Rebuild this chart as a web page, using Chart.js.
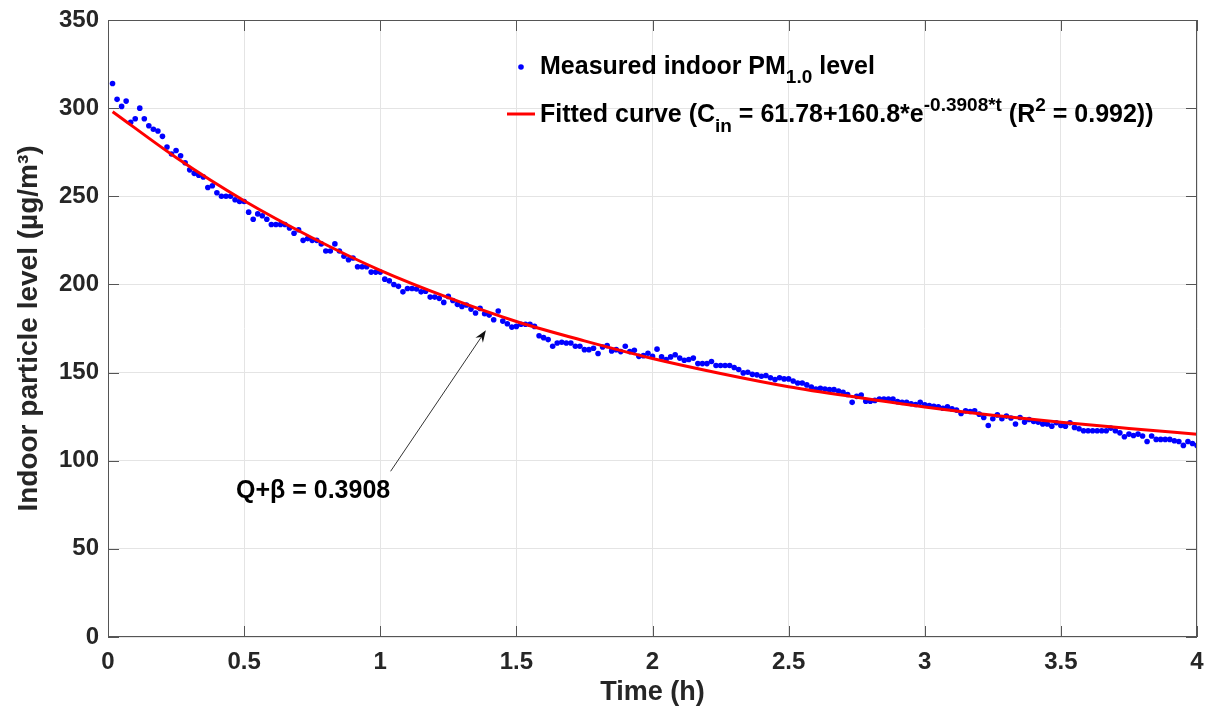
<!DOCTYPE html>
<html>
<head>
<meta charset="utf-8">
<script src="https://cdn.jsdelivr.net/npm/chart.js@4.4.1/dist/chart.umd.min.js"></script>
<style>
  html, body { margin: 0; padding: 0; background: #fff; }
</style>
</head>
<body>
<canvas id="decayChart" width="1212" height="713"></canvas>
<script>
// measured indoor PM1.0, one reading per minute from t = 1 min to 240 min
const measuredLevel = [
  314, 305, 301, 304, 292, 294, 300, 294, 290, 288,
  287, 284, 278, 274, 276, 273, 269, 265, 263, 262,
  261, 255, 256, 252, 250, 250, 250, 248, 247, 247,
  241, 237, 240, 239, 237, 234, 234, 234, 234, 232,
  229, 231, 225, 226, 225, 225, 223, 219, 219, 223,
  219, 216, 214, 215, 210, 210, 210, 207, 207, 207,
  203, 202, 200, 198.9, 195.8, 197.7, 197.7, 197.4, 195.8, 196.2,
  192.8, 192.8, 192.1, 189.8, 193.2, 190.9, 188.7, 187.5, 188.3, 186.0,
  183.8, 186.4, 183.4, 182.6, 180.0, 184.9, 179.2, 177.7, 175.8, 176.2,
  177.4, 177.4, 177.4, 176.2, 170.9, 169.8, 168.7, 164.9, 166.8, 167.2,
  166.8, 166.8, 164.9, 164.9, 163.0, 163.0, 163.8, 160.8, 164.5, 165.3,
  162.3, 163.0, 161.9, 164.9, 161.9, 162.6, 159.2, 159.6, 161.0, 159.3,
  163.3, 158.9, 157.4, 158.9, 160.1, 158.2, 157.0, 157.4, 158.2, 155.1,
  155.1, 155.1, 156.3, 154.0, 154.0, 154.0, 154.0, 152.9, 151.7, 149.8,
  150.2, 149.0, 148.7, 147.9, 148.3, 147.1, 146.0, 147.1, 146.4, 146.4,
  145.2, 144.1, 144.1, 143.0, 141.8, 140.7, 141.1, 140.7, 140.3, 140.3,
  139.5, 138.8, 137.6, 133.1, 136.5, 137.3, 133.8, 133.8, 134.2, 135.0,
  135.0, 135.0, 135.0, 133.5, 133.1, 133.1, 132.3, 131.9, 133.1, 131.7,
  131.3, 130.9, 130.6, 129.8, 130.6, 129.4, 128.7, 126.8, 128.3, 127.9,
  128.3, 126.4, 124.5, 120.0, 123.8, 126.0, 123.8, 125.3, 124.2, 120.8,
  124.5, 121.9, 123.4, 122.3, 121.9, 120.8, 120.8, 119.6, 121.5, 120.0,
  119.6, 121.5, 118.9, 118.1, 117.0, 117.0, 117.0, 117.0, 117.0, 117.0,
  118.5, 117.0, 115.8, 113.6, 115.1, 114.3, 115.1, 114.0, 110.9, 114.0,
  112.1, 112.1, 112.1, 112.1, 111.3, 110.9, 108.7, 110.9, 109.8, 108.7
];

// fitted curve
const fitTime = [0.017, 0.25, 0.5, 0.75, 1, 1.25, 1.5, 1.75, 2, 2.25, 2.5, 2.75, 3, 3.25, 3.5, 3.75, 4];
const fitLevel = [298, 272, 247.5, 226.5, 208, 192.5, 179, 168, 158, 149.5, 142, 136, 130.5, 125.8, 121.8, 118.3, 115];

const xTicks = [0, 0.5, 1, 1.5, 2, 2.5, 3, 3.5, 4];
const yTicks = [0, 50, 100, 150, 200, 250, 300, 350];

// annotation "Q+β" (data coordinates)
const noteText = 'Q+\u03b2 = 0.3908';
const noteAt = { x: 0.47, y: 79 };
const arrowFrom = { x: 1.038, y: 94 };
const arrowTo = { x: 1.388, y: 174 };

const FONT = '"Liberation Sans", Arial, Helvetica, sans-serif';
const AXIS_COLOR = '#262626';

const measuredPoints = measuredLevel.map((v, i) => ({ x: (i + 1) / 60, y: v }));
const fitPoints = fitTime.map((t, i) => ({ x: t, y: fitLevel[i] }));

function drawRich(ctx, x, y, parts) {
  parts.forEach(p => {
    ctx.font = 'bold ' + p.size + 'px ' + FONT;
    ctx.fillText(p.text, x, y + (p.shift || 0));
    x += ctx.measureText(p.text).width;
  });
}

const matlabLook = {
  id: 'matlabLook',
  afterDraw(chart) {
    const ctx = chart.ctx;
    const a = chart.chartArea;
    const xs = chart.scales.x, ys = chart.scales.y;
    ctx.save();

    // box and inward ticks
    ctx.strokeStyle = '#555';
    ctx.lineWidth = 1;
    ctx.strokeRect(a.left + 0.5, a.top + 0.5, a.right - a.left - 1, a.bottom - a.top - 1);
    ctx.beginPath();
    xTicks.forEach(t => {
      const px = Math.round(xs.getPixelForValue(t)) + 0.5;
      ctx.moveTo(px, a.bottom); ctx.lineTo(px, a.bottom - 11);
      ctx.moveTo(px, a.top); ctx.lineTo(px, a.top + 11);
    });
    yTicks.forEach(v => {
      const py = Math.round(ys.getPixelForValue(v)) + 0.5;
      ctx.moveTo(a.left, py); ctx.lineTo(a.left + 11, py);
      ctx.moveTo(a.right, py); ctx.lineTo(a.right - 11, py);
    });
    ctx.stroke();

    // legend
    ctx.textBaseline = 'alphabetic';
    ctx.textAlign = 'left';
    ctx.beginPath();
    ctx.arc(521, 67, 2.8, 0, Math.PI * 2);
    ctx.fillStyle = '#0000ff';
    ctx.fill();
    ctx.fillStyle = '#000';
    drawRich(ctx, 540, 74, [
      { text: 'Measured indoor PM', size: 25 },
      { text: '1.0', size: 19, shift: 9 },
      { text: ' level', size: 25 }
    ]);
    ctx.strokeStyle = '#ff0000';
    ctx.lineWidth = 3;
    ctx.beginPath();
    ctx.moveTo(507, 114); ctx.lineTo(535, 114);
    ctx.stroke();
    drawRich(ctx, 540, 122, [
      { text: 'Fitted curve (C', size: 25 },
      { text: 'in', size: 19, shift: 10 },
      { text: ' = 61.78+160.8*e', size: 25 },
      { text: '-0.3908*t', size: 19, shift: -11 },
      { text: ' (R', size: 25 },
      { text: '2', size: 19, shift: -11 },
      { text: ' = 0.992))', size: 25 }
    ]);

    // annotation arrow
    const x0 = xs.getPixelForValue(arrowFrom.x), y0 = ys.getPixelForValue(arrowFrom.y);
    const x1 = xs.getPixelForValue(arrowTo.x), y1 = ys.getPixelForValue(arrowTo.y);
    const ang = Math.atan2(y1 - y0, x1 - x0);
    const c = Math.cos(ang), s = Math.sin(ang);
    ctx.strokeStyle = '#333';
    ctx.lineWidth = 1;
    ctx.beginPath();
    ctx.moveTo(x0, y0); ctx.lineTo(x1 - 8 * c, y1 - 8 * s);
    ctx.stroke();
    ctx.fillStyle = '#111';
    ctx.beginPath();
    ctx.moveTo(x1, y1);
    ctx.lineTo(x1 - 12 * c + 4.5 * s, y1 - 12 * s - 4.5 * c);
    ctx.lineTo(x1 - 8 * c, y1 - 8 * s);
    ctx.lineTo(x1 - 12 * c - 4.5 * s, y1 - 12 * s + 4.5 * c);
    ctx.closePath();
    ctx.fill();
    ctx.fillStyle = '#000';
    ctx.font = 'bold 25px ' + FONT;
    ctx.fillText(noteText, xs.getPixelForValue(noteAt.x), ys.getPixelForValue(noteAt.y));

    ctx.restore();
  }
};

new Chart(document.getElementById('decayChart'), {
  type: 'scatter',
  data: {
    datasets: [
      {
        label: 'Fitted curve',
        type: 'line',
        data: fitPoints,
        borderColor: '#ff0000',
        borderWidth: 3,
        pointRadius: 0,
        fill: false,
        cubicInterpolationMode: 'monotone',
        order: 1
      },
      {
        label: 'Measured indoor PM1.0 level',
        data: measuredPoints,
        backgroundColor: '#0000ff',
        borderColor: '#0000ff',
        pointRadius: 2.8,
        borderWidth: 0,
        order: 2
      }
    ]
  },
  options: {
    responsive: false,
    devicePixelRatio: 1,
    animation: false,
    layout: { padding: { left: 0, right: 15, top: 20, bottom: 0 } },
    plugins: {
      legend: { display: false },
      tooltip: { enabled: false }
    },
    scales: {
      x: {
        type: 'linear',
        min: 0,
        max: 4,
        afterFit: s => { s.height = 76; s.paddingLeft = 0; s.paddingRight = 0; },
        afterBuildTicks: s => { s.ticks = xTicks.map(v => ({ value: v })); },
        grid: { color: '#e4e4e4', drawTicks: false },
        border: { display: false },
        ticks: {
          padding: 11,
          color: AXIS_COLOR,
          font: { family: FONT, size: 24, weight: 'bold' },
          callback: v => String(v)
        },
        title: {
          display: true,
          text: 'Time (h)',
          color: AXIS_COLOR,
          padding: { top: 0, bottom: 4 },
          font: { family: FONT, size: 27, weight: 'bold' }
        }
      },
      y: {
        min: 0,
        max: 350,
        afterFit: s => { s.width = 108; s.paddingTop = 0; s.paddingBottom = 0; },
        afterBuildTicks: s => { s.ticks = yTicks.map(v => ({ value: v })); },
        grid: { color: '#e4e4e4', drawTicks: false },
        border: { display: false },
        ticks: {
          padding: 9,
          color: AXIS_COLOR,
          font: { family: FONT, size: 24, weight: 'bold' },
          callback: v => String(v)
        },
        title: {
          display: true,
          text: 'Indoor particle level (\u00b5g/m\u00b3)',
          color: AXIS_COLOR,
          padding: { top: 12, bottom: 0 },
          font: { family: FONT, size: 28, weight: 'bold' }
        }
      }
    }
  },
  plugins: [matlabLook]
});
</script>
</body>
</html>
